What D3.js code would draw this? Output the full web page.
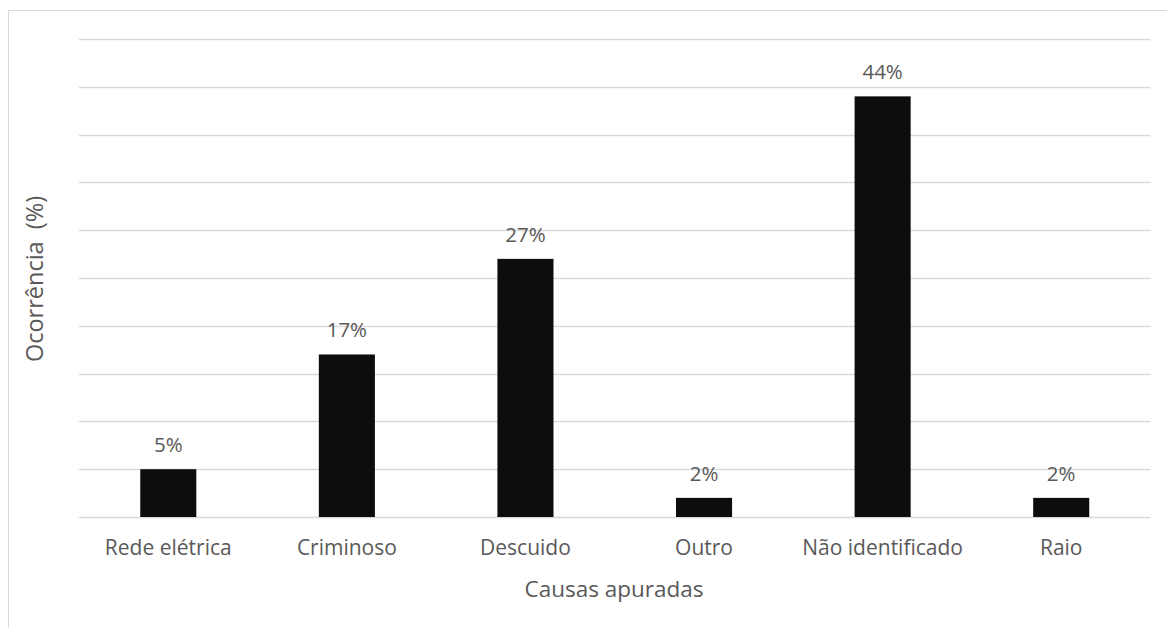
<!DOCTYPE html>
<html>
<head>
<meta charset="utf-8">
<script src="https://cdn.jsdelivr.net/npm/d3@7"></script>
<style>
  html, body { margin: 0; padding: 0; background: #fff; }
  svg { display: block; }
  text { font-family: "Open Sans", "Noto Sans", sans-serif; fill: #595959; }
</style>
</head>
<body>
<svg id="chart" width="1167" height="628"></svg>
<script>
// Causes of occurrences, in percent
const categories = ["Rede elétrica", "Criminoso", "Descuido", "Outro", "Não identificado", "Raio"];
const values = [5, 17, 27, 2, 44, 2];
const gridTicks = [0, 5, 10, 15, 20, 25, 30, 35, 40, 45, 50];

const svg = d3.select("#chart");
const left = 79, right = 1150.5;

// outer frame
svg.append("rect")
  .attr("x", 8.5).attr("y", 10.5)
  .attr("width", 1200).attr("height", 700)
  .attr("fill", "none").attr("stroke", "#d9d9d9").attr("stroke-width", 1);

const x = d3.scaleBand()
  .domain(categories)
  .range([left, right])
  .paddingInner(0.686)
  .paddingOuter(0.343);

const y = d3.scaleLinear()
  .domain([0, 50])
  .range([517, 39]);

// horizontal gridlines
svg.append("g")
  .selectAll("line")
  .data(gridTicks)
  .join("line")
  .attr("x1", left).attr("x2", right)
  .attr("y1", d => Math.round(y(d)) + 0.5)
  .attr("y2", d => Math.round(y(d)) + 0.5)
  .attr("stroke", "#d9d9d9")
  .attr("stroke-width", 1.3);

// bars
svg.append("g")
  .selectAll("rect")
  .data(values)
  .join("rect")
  .attr("x", (d, i) => x(categories[i]))
  .attr("width", x.bandwidth())
  .attr("y", d => y(d))
  .attr("height", d => y(0) - y(d))
  .attr("fill", "#0d0d0d");

// value labels
svg.append("g")
  .selectAll("text")
  .data(values)
  .join("text")
  .attr("x", (d, i) => x(categories[i]) + x.bandwidth() / 2)
  .attr("y", d => y(d) - 17)
  .attr("text-anchor", "middle")
  .attr("font-size", 20.5)
  .text(d => d + "%");

// category axis
const xAxis = svg.append("g")
  .attr("transform", `translate(0,${y(0)})`)
  .call(d3.axisBottom(x).tickSize(0));
xAxis.select(".domain").remove();
xAxis.selectAll("text")
  .attr("y", 38)
  .attr("dy", 0)
  .attr("font-size", 21)
  .style("font-family", '"Open Sans", sans-serif')
  .attr("fill", "#595959");

// axis titles
svg.append("text")
  .attr("x", 614).attr("y", 597)
  .attr("text-anchor", "middle")
  .attr("font-size", 22.5)
  .text("Causas apuradas");

svg.append("text")
  .attr("transform", `translate(43,${279}) rotate(-90)`)
  .attr("text-anchor", "middle")
  .attr("font-size", 23.5)
  .attr("xml:space", "preserve")
  .style("white-space", "pre")
  .text("Ocorrência  (%)");
</script>
</body>
</html>
